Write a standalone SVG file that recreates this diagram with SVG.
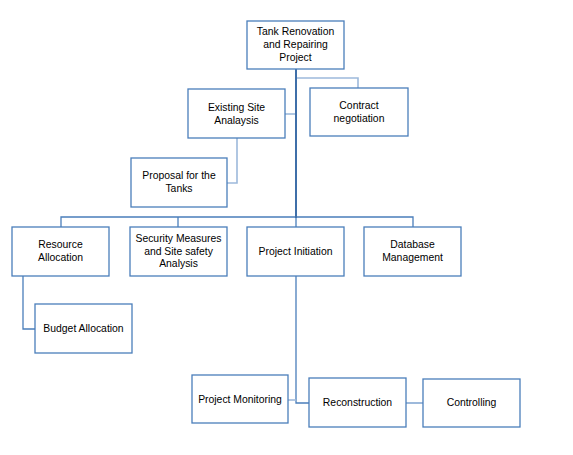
<svg xmlns="http://www.w3.org/2000/svg" width="573" height="455" viewBox="0 0 573 455">
<style>
.box{fill:#fff;stroke:#4A7EBB;stroke-width:1.3}
.t{font-family:"Liberation Sans",Arial,sans-serif;font-size:10.4px;fill:#000;text-anchor:middle}
.dk{stroke:#3F6FA9;stroke-width:2;fill:none}
.md{stroke:#4A7EBB;stroke-width:1.3;fill:none}
.lt{stroke:#9DB9DB;stroke-width:1.6;fill:none}
</style>
<rect width="573" height="455" fill="#fff"/>
<g id="connectors">
<polyline class="lt" points="296,78 358,78 358,89"/>
<polyline class="lt" points="296,114 285,114"/>
<polyline class="lt" points="237,138 237,183 227,183"/>
<polyline class="md" points="61,227 61,217 413,217 413,227"/>
<line class="md" x1="178" y1="217" x2="178" y2="227"/>
<line class="md" x1="296" y1="217" x2="296" y2="227"/>
<line class="dk" x1="296" y1="69" x2="296" y2="218"/>
<polyline class="md" points="23,276 23,329 35,329"/>
<polyline class="md" points="296,276 296,403 309,403"/>
<line class="lt" x1="288" y1="400" x2="296" y2="400"/>
<line class="lt" x1="406" y1="403" x2="423" y2="403" style="stroke-width:2"/>
</g>
<g id="n_top"><rect class="box" x="247" y="21" width="97" height="48"/><text class="t"><tspan x="295.5" y="35">Tank Renovation</tspan><tspan x="295.5" y="48">and Repairing</tspan><tspan x="295.5" y="61">Project</tspan></text></g>
<g id="n_existing"><rect class="box" x="188" y="89" width="97" height="49"/><text class="t"><tspan x="236.5" y="111">Existing Site</tspan><tspan x="236.5" y="124">Analaysis</tspan></text></g>
<g id="n_contract"><rect class="box" x="310" y="88" width="98" height="48"/><text class="t"><tspan x="359" y="109">Contract</tspan><tspan x="359" y="122">negotiation</tspan></text></g>
<g id="n_proposal"><rect class="box" x="131" y="158" width="96" height="49"/><text class="t"><tspan x="179" y="179">Proposal for the</tspan><tspan x="179" y="192">Tanks</tspan></text></g>
<g id="n_resource"><rect class="box" x="12" y="227" width="97" height="49"/><text class="t"><tspan x="60.5" y="248">Resource</tspan><tspan x="60.5" y="261">Allocation</tspan></text></g>
<g id="n_security"><rect class="box" x="130" y="227" width="97" height="49"/><text class="t"><tspan x="178.5" y="242">Security Measures</tspan><tspan x="178.5" y="255">and Site safety</tspan><tspan x="178.5" y="267">Analysis</tspan></text></g>
<g id="n_initiation"><rect class="box" x="247" y="227" width="97" height="49"/><text class="t" x="295.5" y="255">Project Initiation</text></g>
<g id="n_database"><rect class="box" x="364" y="227" width="97" height="49"/><text class="t"><tspan x="412.5" y="248">Database</tspan><tspan x="412.5" y="261">Management</tspan></text></g>
<g id="n_budget"><rect class="box" x="35" y="304" width="97" height="49"/><text class="t" x="83.5" y="332">Budget Allocation</text></g>
<g id="n_monitoring"><rect class="box" x="192" y="375" width="96" height="48"/><text class="t" x="240" y="403">Project Monitoring</text></g>
<g id="n_reconstruction"><rect class="box" x="309" y="378" width="97" height="49"/><text class="t" x="357.5" y="406">Reconstruction</text></g>
<g id="n_controlling"><rect class="box" x="423" y="379" width="97" height="48"/><text class="t" x="471.5" y="406">Controlling</text></g>
</svg>
